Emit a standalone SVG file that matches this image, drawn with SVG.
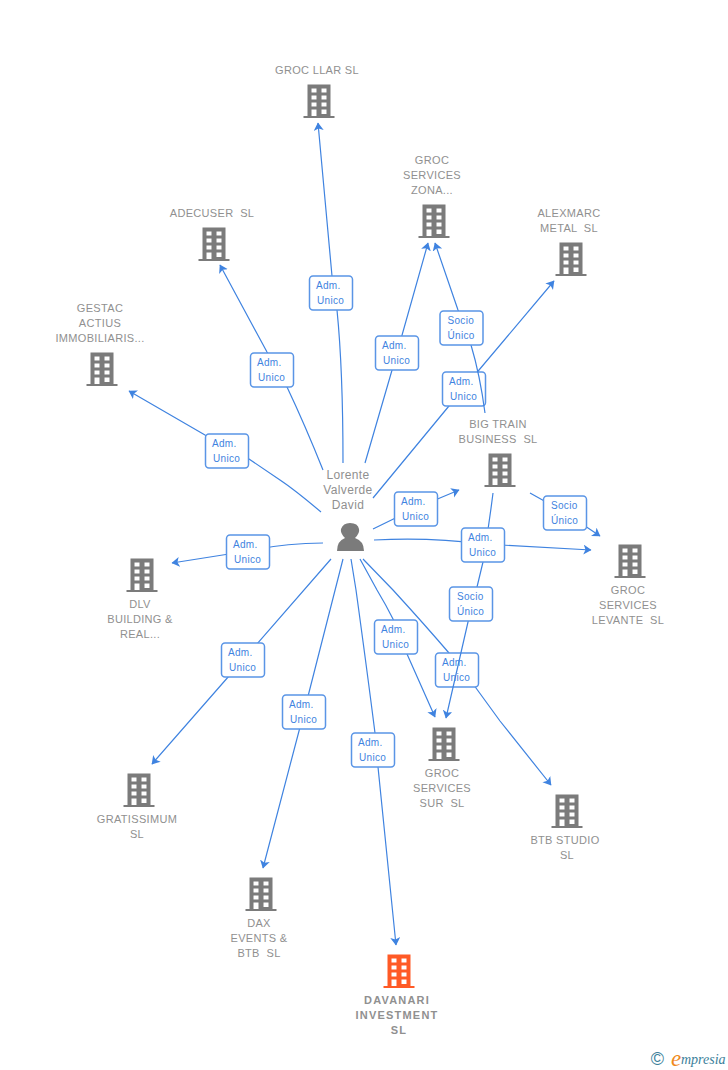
<svg xmlns="http://www.w3.org/2000/svg" width="728" height="1070" viewBox="0 0 728 1070">
<style>
.n{font:11px "Liberation Sans",Arial,sans-serif;fill:#909090;text-anchor:middle;white-space:pre;letter-spacing:.32px}
.p{font-size:12px;letter-spacing:.35px}
.d{font-weight:bold;letter-spacing:1.2px}
.l{font:10px "Liberation Sans",Arial,sans-serif;fill:#3f83e0;letter-spacing:.3px}
.e{fill:none;stroke:#3f83e0;stroke-width:1.2;stroke-linejoin:round;marker-end:url(#a)}
.b{fill:#fff;stroke:#5a95e6;stroke-width:1.5}
.g{fill:#7b7b7b}
</style>
<defs>
<marker id="a" markerWidth="10" markerHeight="12" refX="7.500" refY="5" orient="auto" markerUnits="userSpaceOnUse"><path d="M0 0L8 5L0 10L2 5Z" fill="#3f83e0"/></marker>
<path id="h" fill-rule="evenodd" d="M-11.500-33.500H11.500V-2H15.500V0H-15.500V-2H-11.500ZM-7.500-29.500V-25.500H-2.500V-29.500ZM2.500-29.500V-25.500H7.500V-29.500ZM-7.500-22.500V-18.500H-2.500V-22.500ZM2.500-22.500V-18.500H7.500V-22.500ZM-7.500-15.500V-11.500H-2.500V-15.500ZM2.500-15.500V-11.500H7.500V-15.500ZM-7.500-8.500V-2H-2.500V-8.500ZM2.500-8.500V-4H7.500V-8.500Z"/>
<rect id="lb" class="b" x="-21.500" y="-17" width="43" height="34" rx="3.500"/>
</defs>
<g id="connectors">
<path class="e" d="M343 463Q343 370 337 310L332 276L318 123"/>
<path class="e" d="M323 470Q305 425 287 387L267 352L220 265"/>
<path class="e" d="M321 512Q295 490 280 480L249 459L205 435L129 391"/>
<path class="e" d="M365 463L397 353L428 243"/>
<path class="e" d="M373 498L463 389L554 281"/>
<path class="e" d="M373 529L416 508L459 490"/>
<path class="e" d="M374 540Q430 537 483 544L591 550"/>
<path class="e" d="M530 493L564 512L600 536"/>
<path class="e" d="M323 543Q285 543 248 551L172 563"/>
<path class="e" d="M331 559L243 660L152 764"/>
<path class="e" d="M343 559L304 712L263 868"/>
<path class="e" d="M351 559L356 590Q367 670 375 733L378 767L396 945"/>
<path class="e" d="M360 559L377 590Q386 605 393 619L407 654L435 717"/>
<path class="e" d="M363 559L393 590Q425 625 449 653L476 688L500 721L551 785"/>
</g>
<g id="edge-labels">
<g transform="translate(331 293)"><use href="#lb"/><text class="l" x="-15" y="-4">Adm.</text><text class="l" x="-14" y="11">Unico</text></g>
<g transform="translate(272 370)"><use href="#lb"/><text class="l" x="-15" y="-4">Adm.</text><text class="l" x="-14" y="11">Unico</text></g>
<g transform="translate(227 451)"><use href="#lb"/><text class="l" x="-15" y="-4">Adm.</text><text class="l" x="-14" y="11">Unico</text></g>
<g transform="translate(397 353)"><use href="#lb"/><text class="l" x="-15" y="-4">Adm.</text><text class="l" x="-14" y="11">Unico</text></g>
<g transform="translate(464 389)"><use href="#lb"/><text class="l" x="-15" y="-4">Adm.</text><text class="l" x="-14" y="11">Unico</text></g>
<g transform="translate(416 509)"><use href="#lb"/><text class="l" x="-15" y="-4">Adm.</text><text class="l" x="-14" y="11">Unico</text></g>
<g transform="translate(565 513)"><use href="#lb"/><text class="l" x="-14" y="-4">Socio</text><text class="l" x="-14" y="11">Único</text></g>
<g transform="translate(248 552)"><use href="#lb"/><text class="l" x="-15" y="-4">Adm.</text><text class="l" x="-14" y="11">Unico</text></g>
<g transform="translate(396 637)"><use href="#lb"/><text class="l" x="-15" y="-4">Adm.</text><text class="l" x="-14" y="11">Unico</text></g>
<g transform="translate(243 660)"><use href="#lb"/><text class="l" x="-15" y="-4">Adm.</text><text class="l" x="-14" y="11">Unico</text></g>
<g transform="translate(457 670)"><use href="#lb"/><text class="l" x="-15" y="-4">Adm.</text><text class="l" x="-14" y="11">Unico</text></g>
<g transform="translate(304 712)"><use href="#lb"/><text class="l" x="-15" y="-4">Adm.</text><text class="l" x="-14" y="11">Unico</text></g>
<g transform="translate(373 750)"><use href="#lb"/><text class="l" x="-15" y="-4">Adm.</text><text class="l" x="-14" y="11">Unico</text></g>
</g>
<g id="connectors-front">
<path class="e" d="M485 413Q480 375 471 345L458 310L435 243"/>
<path class="e" d="M493 493Q489 525 483 562L477 587L468 622L446 718"/>
</g>
<g id="edge-labels-front">
<g transform="translate(461.500 328)"><use href="#lb"/><text class="l" x="-14" y="-4">Socio</text><text class="l" x="-14" y="11">Único</text></g>
<g transform="translate(471 604)"><use href="#lb"/><text class="l" x="-14" y="-4">Socio</text><text class="l" x="-14" y="11">Único</text></g>
<g transform="translate(483 545)"><use href="#lb"/><text class="l" x="-15" y="-4">Adm.</text><text class="l" x="-14" y="11">Unico</text></g>
</g>
<g id="person"><text class="n p" x="348" y="479">Lorente</text><text class="n p" x="348" y="494">Valverde</text><text class="n p" x="348" y="509">David</text><path class="g" d="M337 551Q337 541 345 538Q340 533 341 529Q343 523 350 523Q358 523 359 529Q360 533 355 538Q364 541 364 551Z"/></g>
<g id="groc-llar"><text class="n" x="317" y="74">GROC LLAR SL</text><use class="g" href="#h" x="319" y="118"/></g>
<g id="groc-zona"><text class="n" x="432" y="164">GROC</text><text class="n" x="432" y="179">SERVICES</text><text class="n" x="432" y="194">ZONA...</text><use class="g" href="#h" x="434" y="238"/></g>
<g id="adecuser"><text class="n" x="212" y="217">ADECUSER  SL</text><use class="g" href="#h" x="214" y="261"/></g>
<g id="alexmarc"><text class="n" x="569" y="217">ALEXMARC</text><text class="n" x="569" y="232">METAL  SL</text><use class="g" href="#h" x="571" y="276"/></g>
<g id="gestac"><text class="n" x="100" y="312">GESTAC</text><text class="n" x="100" y="327">ACTIUS</text><text class="n" x="100" y="342">IMMOBILIARIS...</text><use class="g" href="#h" x="102" y="386"/></g>
<g id="big-train"><text class="n" x="498" y="428">BIG TRAIN</text><text class="n" x="498" y="443">BUSINESS  SL</text><use class="g" href="#h" x="500" y="487"/></g>
<g id="levante"><use class="g" href="#h" x="630" y="578"/><text class="n" x="628" y="594">GROC</text><text class="n" x="628" y="609">SERVICES</text><text class="n" x="628" y="624">LEVANTE  SL</text></g>
<g id="dlv"><use class="g" href="#h" x="142" y="592"/><text class="n" x="140" y="608">DLV</text><text class="n" x="140" y="623">BUILDING &amp;</text><text class="n" x="140" y="638">REAL...</text></g>
<g id="gratissimum"><use class="g" href="#h" x="139" y="807"/><text class="n" x="137" y="823">GRATISSIMUM</text><text class="n" x="137" y="838">SL</text></g>
<g id="sur"><use class="g" href="#h" x="444" y="761"/><text class="n" x="442" y="777">GROC</text><text class="n" x="442" y="792">SERVICES</text><text class="n" x="442" y="807">SUR  SL</text></g>
<g id="btb"><use class="g" href="#h" x="567" y="828"/><text class="n" x="565" y="844">BTB STUDIO</text><text class="n" x="567" y="859">SL</text></g>
<g id="dax"><use class="g" href="#h" x="261" y="911"/><text class="n" x="259" y="927">DAX</text><text class="n" x="259" y="942">EVENTS &amp;</text><text class="n" x="259" y="957">BTB  SL</text></g>
<g id="davanari"><use fill="#ff5a26" href="#h" x="399" y="988"/><text class="n d" x="397" y="1004">DAVANARI</text><text class="n d" x="397" y="1019">INVESTMENT</text><text class="n d" x="399" y="1034">SL</text></g>
<g id="logo"><text x="657.500" y="1065" font-family="Liberation Sans,sans-serif" font-size="18" fill="#3c7f9b" text-anchor="middle">©</text><text x="671" y="1066" font-family="Liberation Serif,serif" font-style="italic" font-size="23" fill="#f08a1d">e</text><text x="681" y="1064" font-family="Liberation Serif,serif" font-style="italic" font-size="14" fill="#3c7f9b">mpresia</text></g>
</svg>
